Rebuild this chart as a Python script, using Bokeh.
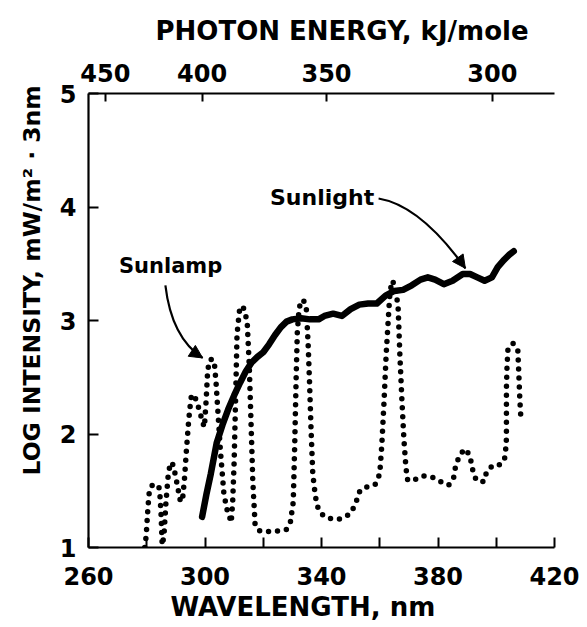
import math
from bokeh.plotting import figure
from bokeh.models import (LinearAxis, FixedTicker, CustomJSTickFormatter, Label,
                          Arrow, NormalHead, Title)
from bokeh.embed import file_html
from bokeh.resources import INLINE

# ---------------- data ----------------
sunlight_wl = [299, 300.5, 302, 304, 306, 308, 310, 312, 314, 316, 318, 320, 322, 324, 326,
               328, 330, 333, 336, 339, 341, 344, 347, 350, 353, 356, 359, 362, 365, 368,
               371, 374, 376.5, 379, 382, 385, 388.5, 391, 393.5, 396, 398.5, 400.5, 402.5,
               404.5, 406]
sunlight_log = [1.27, 1.47, 1.65, 1.92, 2.08, 2.22, 2.34, 2.45, 2.55, 2.63, 2.68, 2.72, 2.79,
                2.87, 2.94, 2.99, 3.01, 3.02, 3.01, 3.01, 3.04, 3.06, 3.04, 3.10, 3.14, 3.15,
                3.15, 3.22, 3.26, 3.27, 3.31, 3.36, 3.38, 3.36, 3.32, 3.35, 3.41, 3.41, 3.38,
                3.35, 3.38, 3.47, 3.53, 3.58, 3.61]

sunlamp_wl = [279.3, 279.8, 280.4, 280.9, 281.9, 283.0, 284.4, 284.9, 285.3, 285.9, 286.6,
              287.4, 288.2, 289.0, 289.9, 291.0, 291.6, 292.4, 293.0, 293.6, 294.4, 295.2,
              296.2, 297.2, 298.2, 299.2, 299.8, 300.4, 300.9, 301.5, 302.5, 303.2, 303.8,
              304.3, 305.3, 306.5, 307.6, 308.3, 309.0, 309.5, 310.0, 310.5, 311.0, 311.8,
              312.6, 313.5, 314.5, 315.2, 315.8, 316.4, 317.2, 318.5, 320.0, 322, 324, 326,
              328, 329.3, 330.3, 330.8, 331.3, 331.7, 332.3, 333.0, 334.0, 334.8, 335.4,
              335.9, 336.4, 337.0, 337.9, 338.8, 340.3, 342, 344, 346, 348, 350, 351.6,
              353.2, 355, 357, 358.6, 360.0, 360.7, 361.5, 362.2, 362.9, 363.5, 364.3,
              365.3, 366.3, 366.9, 367.6, 368.3, 369.0, 369.6, 372.3, 375.1, 378, 381,
              383.7, 385.4, 386.0, 387.2, 389.1, 390.8, 391.5, 392.1, 393.2, 395.7, 396.5,
              398, 400.3, 402.8, 403.2, 403.5, 403.5, 403.5, 403.7, 404.0, 405.7, 407.4,
              407.7, 408.1, 408.5]
sunlamp_log = [1.0, 1.1, 1.35, 1.5, 1.55, 1.56, 1.52, 1.3, 1.02, 1.1, 1.4,
               1.65, 1.75, 1.73, 1.63, 1.48, 1.40, 1.45, 1.62, 1.85, 2.12, 2.32,
               2.35, 2.28, 2.2, 2.1, 2.06, 2.3, 2.55, 2.65, 2.66, 2.63, 2.45,
               2.25, 1.85, 1.47, 1.33, 1.28, 1.22, 1.4, 1.75, 2.3, 2.88, 3.08,
               3.13, 3.1, 2.98, 2.6, 2.1, 1.6, 1.2, 1.15, 1.14, 1.14, 1.14, 1.15,
               1.16, 1.22, 1.4, 1.9, 2.5, 2.9, 3.1, 3.18, 3.17, 3.1, 2.8,
               2.45, 2.05, 1.65, 1.45, 1.35, 1.29, 1.26, 1.25, 1.25, 1.27, 1.3, 1.38,
               1.5, 1.53, 1.54, 1.56, 1.65, 1.9, 2.3, 2.7, 3.0, 3.25, 3.35,
               3.3, 3.12, 2.7, 2.3, 1.95, 1.7, 1.59, 1.6, 1.63, 1.62, 1.58,
               1.55, 1.62, 1.71, 1.8, 1.87, 1.82, 1.74, 1.66, 1.59, 1.58, 1.65,
               1.71, 1.71, 1.77, 1.85, 1.96, 2.12, 2.41, 2.59, 2.74, 2.80, 2.74,
               2.56, 2.3, 2.12]

x_ticks = [260, 300, 340, 380, 420]
x_minor_ticks = [280, 320, 360, 400]
y_ticks = [1, 2, 3, 4, 5]
energy_ticks = [450, 400, 350, 300]   # kJ/mole
HC = 119600.0                         # kJ nm / mole  (E = HC / wavelength)

FONT = "DejaVu Sans"

# ---------------- figure ----------------
p = figure(width=580, height=625, x_range=(260, 420), y_range=(1, 5),
           output_backend="svg", toolbar_location=None,
           min_border_left=88, min_border_right=26, min_border_top=93, min_border_bottom=78)
p.outline_line_color = None
p.xgrid.visible = False
p.ygrid.visible = False
p.background_fill_color = "white"
p.border_fill_color = "white"

def style_axis(ax, standoff):
    ax.axis_line_width = 2.2
    ax.axis_line_color = "black"
    ax.major_tick_in = 10
    ax.major_tick_out = 0
    ax.major_tick_line_width = 2
    ax.minor_tick_in = 10
    ax.minor_tick_out = 0
    ax.minor_tick_line_width = 2
    ax.major_label_text_font = FONT
    ax.major_label_text_font_style = "bold"
    ax.major_label_text_font_size = "24px"
    ax.major_label_text_color = "black"
    ax.major_label_standoff = standoff

def spacer_label(ax, size, standoff):
    # an invisible (blank) axis label used only as spacing before the side title
    ax.axis_label = " "
    ax.axis_label_text_font_size = size
    ax.axis_label_standoff = standoff

xa = p.xaxis[0]
xa.ticker = FixedTicker(ticks=x_ticks, minor_ticks=x_minor_ticks)
style_axis(xa, 19)

ya = p.yaxis[0]
ya.ticker = FixedTicker(ticks=y_ticks, minor_ticks=[])
style_axis(ya, 12)
spacer_label(ya, "3px", 0)

top = LinearAxis(ticker=FixedTicker(ticks=[HC / e for e in energy_ticks], minor_ticks=[]),
                 formatter=CustomJSTickFormatter(code="return Math.round(119600/tick).toString()"))
style_axis(top, 12)
top.major_tick_in = 8
spacer_label(top, "4px", 2)
p.add_layout(top, "above")

# ---------------- axis titles (as side titles) ----------------
title_style = dict(text_font=FONT, text_font_style="bold", text_color="black", align="left")
p.add_layout(Title(text="PHOTON ENERGY, kJ/mole", text_font_size="26px", offset=67,
                   standoff=10, **title_style), "above")
p.add_layout(Title(text="WAVELENGTH, nm", text_font_size="26px", offset=82,
                   standoff=5, **title_style), "below")
p.add_layout(Title(text="LOG INTENSITY, mW/m\u00b2 \u00b7 3nm", text_font_size="23.5px",
                   offset=72, standoff=10, **title_style), "left")

# ---------------- curves ----------------
p.line(sunlamp_wl, sunlamp_log, line_color="black", line_width=5.5,
       line_dash="0 9", line_cap="round", line_join="round")
p.line(sunlight_wl, sunlight_log, line_color="black", line_width=6.5,
       line_cap="round", line_join="round")

# ---------------- annotations ----------------
lbl_style = dict(text_font=FONT, text_font_style="bold", text_color="black",
                 text_align="center", text_baseline="middle")
p.add_layout(Label(x=288.2, y=3.48, text="Sunlamp", text_font_size="21px", **lbl_style))
p.add_layout(Label(x=340.2, y=4.08, text="Sunlight", text_font_size="22px", **lbl_style))

# curved arrows
lamp_arrow = dict(x0=286.4, y0=3.31, cx=288.5, cy=2.85, x1=299.2, y1=2.67)
sun_arrow = dict(x0=359.6, y0=4.075, cx=374.0, cy=4.013, x1=389.4, y1=3.46)
for a in (lamp_arrow, sun_arrow):
    p.quadratic(x0=[a["x0"]], y0=[a["y0"]], x1=[a["x1"]], y1=[a["y1"]],
                cx=[a["cx"]], cy=[a["cy"]], line_color="black", line_width=2.2)
    xs = a["x1"] - 0.15 * (a["x1"] - a["cx"])
    ys = a["y1"] - 0.15 * (a["y1"] - a["cy"])
    p.add_layout(Arrow(end=NormalHead(size=13, fill_color="black", line_color="black",
                                      line_width=1),
                       x_start=xs, y_start=ys, x_end=a["x1"], y_end=a["y1"],
                       line_alpha=0))

open("out.html", "w").write(file_html(p, INLINE))
